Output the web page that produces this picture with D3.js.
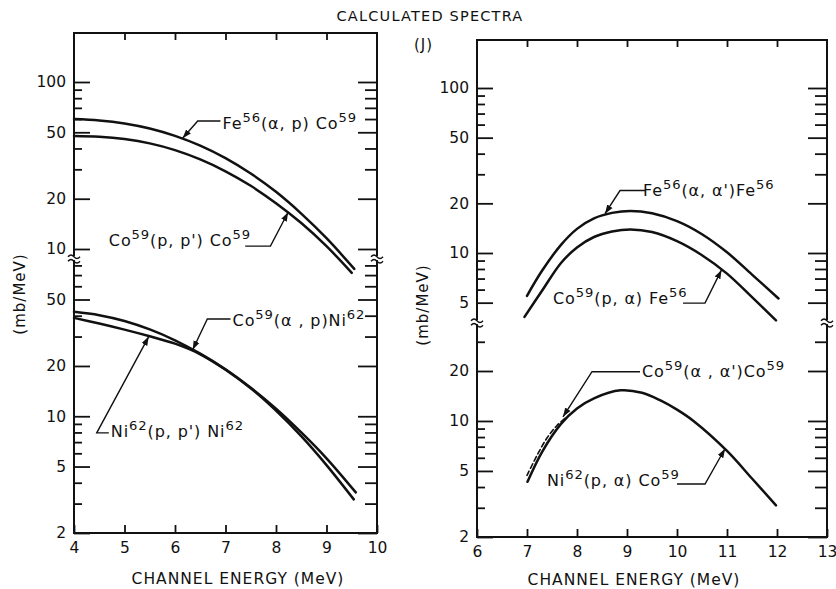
<!DOCTYPE html>
<html><head><meta charset="utf-8">
<script src="https://cdn.jsdelivr.net/npm/d3@7"></script>
<style>
body{margin:0;background:#fff}
svg{display:block}
</style></head><body>
<svg id="chart" width="836" height="589"></svg>
<script>
// ---------------- DATA ----------------
// Left panel, upper section
const leftUpperEnergy = [4.0, 4.5, 5.0, 5.5, 6.0, 6.5, 7.0, 7.5, 8.0, 8.5, 9.0, 9.55];
const feAlphaP        = [60, 58.9, 56.5, 52.7, 47.6, 41.6, 35.0, 28.3, 22.0, 16.3, 11.6, 7.6];
const coUpperEnergy   = [4.0, 4.5, 5.0, 5.5, 6.0, 6.5, 7.0, 7.5, 8.0, 8.5, 9.0, 9.5];
const coPP            = [47.5, 47.0, 45.5, 42.9, 39.1, 34.4, 29.2, 23.9, 18.8, 14.3, 10.4, 7.2];
// Left panel, lower section
const coAlphaPEnergy  = [4.0, 4.5, 5.0, 5.5, 6.0, 6.5, 7.0, 7.5, 8.0, 8.5, 9.0, 9.58];
const coAlphaP        = [42.2, 40.3, 37.2, 33.1, 28.5, 23.7, 19.1, 14.8, 11.1, 8.0, 5.6, 3.5];
const niPPEnergy      = [4.0, 4.5, 5.0, 5.5, 6.0, 6.5, 7.0, 7.5, 8.0, 8.5, 9.0, 9.54];
const niPP            = [38.8, 35.9, 33.0, 30.1, 27.2, 23.5, 19.0, 14.7, 10.8, 7.6, 5.1, 3.18];
// Right panel, upper section
const feAAEnergy      = [7.0, 7.3, 7.68, 8.0, 8.34, 8.7, 9.07, 9.5, 10.0, 10.5, 11.0, 11.5, 12.03];
const feAlphaAlpha    = [5.5, 7.8, 11.2, 14.0, 16.2, 17.5, 18.0, 17.4, 15.6, 13.0, 10.1, 7.4, 5.3];
const coPAEnergy      = [6.95, 7.3, 7.68, 8.0, 8.34, 8.7, 9.07, 9.5, 10.0, 10.5, 11.0, 11.5, 11.98];
const coPAlpha        = [4.1, 5.9, 8.7, 10.8, 12.5, 13.5, 13.9, 13.4, 11.8, 9.7, 7.5, 5.4, 3.9];
// Right panel, lower section
const niPAEnergy      = [7.01, 7.3, 7.68, 8.0, 8.34, 8.87, 9.3, 9.67, 10.0, 10.33, 11.0, 11.5, 11.98];
const niPAlpha        = [4.3, 6.5, 9.6, 11.9, 13.7, 15.3, 14.8, 13.3, 11.7, 10.0, 6.6, 4.5, 3.1];
const coAAEnergy      = [7.0, 7.2, 7.4, 7.6, 7.8];
const coAlphaAlpha    = [4.7, 6.2, 7.9, 9.4, 10.6];

// Ticks
const leftXTicks   = [4, 5, 6, 7, 8, 9, 10];
const rightXTicks  = [6, 7, 8, 9, 10, 11, 12, 13];
const leftUpperMajor  = [10, 20, 50, 100];
const leftUpperMinor  = [30, 40, 60, 70, 80, 90];
const leftLowerMajor  = [2, 5, 10, 20, 50];
const leftLowerMinor  = [3, 4, 6, 7, 8, 9, 30, 40, 60, 70, 80];
const rightUpperMajor = [5, 10, 20, 50, 100];
const rightUpperMinor = [6, 7, 8, 9, 30, 40, 60, 70, 80, 90];
const rightLowerMajor = [2, 5, 10, 20];
const rightLowerMinor = [3, 4, 6, 7, 8, 9, 30];

// Texts
const titleText  = "CALCULATED SPECTRA";
const panelTag   = "(J)";
const yTitle     = "(mb/MeV)";
const xTitle     = "CHANNEL ENERGY (MeV)";

// Annotation labels: text anchor and leader points in data units (energy, value)
const leftUpperNotes = [
  {text: "Fe^56(α, p) Co^59",   at: [6.94, 52.5], pts: [[6.90, 58.4], [6.45, 58.4], [6.15, 46.0]]},
  {text: "Co^59(p, p') Co^59",  at: [4.69, 10.4], pts: [[7.39, 10.4], [7.89, 10.4], [8.24, 16.6]]}
];
const leftLowerNotes = [
  {text: "Co^59(α , p)Ni^62",   at: [7.14, 34.7], pts: [[7.10, 38.2], [6.64, 38.2], [6.35, 25.0]]},
  {text: "Ni^62(p, p') Ni^62",  at: [4.73, 7.5],  pts: [[4.69, 7.95], [4.45, 7.95], [5.48, 30.0]]}
];
const rightUpperNotes = [
  {text: "Fe^56(α, α')Fe^56",   at: [9.32, 22.2], pts: [[9.36, 23.9], [8.86, 23.9], [8.56, 17.3]]},
  {text: "Co^59(p, α) Fe^56",   at: [7.52, 4.9],  pts: [[10.12, 4.97], [10.56, 4.97], [10.89, 7.9]]}
];
const rightLowerNotes = [
  {text: "Co^59(α , α')Co^59",  at: [9.30, 18.4], pts: [[9.26, 19.8], [8.30, 19.8], [7.72, 10.6]]},
  {text: "Ni^62(p, α) Co^59",   at: [7.40, 4.06], pts: [[10.0, 4.17], [10.56, 4.17], [10.96, 6.8]]}
];

// ---------------- DRAWING ----------------
const FONT = "'DejaVu Sans', sans-serif";
const INK = "#111";
const svg = d3.select("#chart");
svg.append("rect").attr("width", 836).attr("height", 589).attr("fill", "#fff");

const defs = svg.append("defs");
defs.append("marker").attr("id", "arrow")
  .attr("viewBox", "0 0 10 10").attr("refX", 10).attr("refY", 5)
  .attr("markerWidth", 9).attr("markerHeight", 9).attr("markerUnits", "userSpaceOnUse")
  .attr("orient", "auto")
  .append("path").attr("d", "M0,1.5 L10,5 L0,8.5 Z").attr("fill", INK);

function richText(sel, str, size) {
  const parts = str.split(/\^(\d+)/);
  let shift = 0;
  parts.forEach((p, i) => {
    if (p === "") return;
    const sup = i % 2 === 1;
    const target = sup ? -size * 0.42 : 0;
    sel.append("tspan").attr("dy", target - shift)
      .attr("font-size", sup ? size * 0.82 : size).text(p);
    shift = target;
  });
}

function styleAxis(g) {
  g.select(".domain").remove();
  g.selectAll(".tick line").attr("stroke", INK).attr("stroke-width", 1.8);
  g.selectAll(".tick text").attr("fill", INK).attr("font-family", FONT).attr("font-size", 15.5);
}

function drawPanel(p) {
  const g = svg.append("g");
  const x = d3.scaleLinear().domain(p.xDomain).range([p.left, p.right]);
  const yU = d3.scaleLog().domain([10, 100]).range(p.upperRange);
  const yL = d3.scaleLog().domain(p.lowerDomain).range(p.lowerRange);

  // top inner ticks
  g.append("g").attr("transform", `translate(0,${p.top})`)
    .call(d3.axisBottom(x).tickValues(p.xTicks.slice(1, -1)).tickSizeInner(7).tickSizeOuter(0).tickFormat(""))
    .call(styleAxis);
  // bottom axis
  g.append("g").attr("transform", `translate(0,${p.bottom})`)
    .call(d3.axisBottom(x).tickValues(p.xTicks).tickSizeInner(-8).tickSizeOuter(0).tickPadding(9).tickFormat(d3.format("d")))
    .call(styleAxis);

  // y axes, both sections
  const sections = [
    {scale: yU, major: p.upperMajor, minor: p.upperMinor},
    {scale: yL, major: p.lowerMajor, minor: p.lowerMinor}
  ];
  sections.forEach(s => {
    g.append("g").attr("transform", `translate(${p.left},0)`)
      .call(d3.axisLeft(s.scale).tickValues(s.major).tickSizeInner(-16).tickSizeOuter(0).tickPadding(8).tickFormat(d3.format("d")))
      .call(styleAxis);
    g.append("g").attr("transform", `translate(${p.left},0)`)
      .call(d3.axisLeft(s.scale).tickValues(s.minor).tickSizeInner(-8).tickSizeOuter(0).tickFormat(""))
      .call(styleAxis);
    g.append("g").attr("transform", `translate(${p.right},0)`)
      .call(d3.axisLeft(s.scale).tickValues(s.major).tickSizeInner(19).tickSizeOuter(0).tickFormat(""))
      .call(styleAxis);
    g.append("g").attr("transform", `translate(${p.right},0)`)
      .call(d3.axisLeft(s.scale).tickValues(s.minor).tickSizeInner(12).tickSizeOuter(0).tickFormat(""))
      .call(styleAxis);
  });

  // frame
  g.append("rect").attr("x", p.left).attr("y", p.top)
    .attr("width", p.right - p.left).attr("height", p.bottom - p.top)
    .attr("fill", "none").attr("stroke", INK).attr("stroke-width", 2);

  // axis breaks
  [p.left, p.right].forEach(ax => {
    g.append("rect").attr("x", ax - 3).attr("y", p.breakY - 2).attr("width", 6).attr("height", 4).attr("fill", "#fff");
    [-2.2, 2.2].forEach(off => {
      g.append("path")
        .attr("d", `M${ax - 6},${p.breakY + off + 1} q3,-3.5 6,0 t6,0`)
        .attr("fill", "none").attr("stroke", INK).attr("stroke-width", 1.4);
    });
  });

  // curves
  p.curves.forEach(c => {
    const sc = c.section === "upper" ? yU : yL;
    const line = d3.line().x(d => x(d[0])).y(d => sc(d[1])).curve(d3.curveCatmullRom.alpha(0.5));
    g.append("path").datum(d3.zip(c.e, c.v)).attr("d", line)
      .attr("fill", "none").attr("stroke", INK).attr("stroke-width", c.dash ? 1.6 : 2.5)
      .attr("stroke-dasharray", c.dash ? "5,3" : null).attr("stroke-linecap", "round");
  });

  // annotations
  p.notes.forEach(n => {
    const sc = n.section === "upper" ? yU : yL;
    const pts = n.pts.map(d => [x(d[0]), sc(d[1])]);
    g.append("path").attr("d", d3.line()(pts)).attr("fill", "none")
      .attr("stroke", INK).attr("stroke-width", 1.4).attr("marker-end", "url(#arrow)");
    const t = g.append("text").attr("x", x(n.at[0])).attr("y", sc(n.at[1]))
      .attr("font-family", FONT).attr("fill", INK).attr("letter-spacing", 0.9);
    richText(t, n.text, 16);
  });
}

drawPanel({
  xDomain: [4, 10], left: 74, right: 377, top: 33, bottom: 533, breakY: 258,
  upperRange: [249, 82], lowerDomain: [2, 50], lowerRange: [533, 299.5],
  xTicks: leftXTicks,
  upperMajor: leftUpperMajor, upperMinor: leftUpperMinor,
  lowerMajor: leftLowerMajor, lowerMinor: leftLowerMinor,
  curves: [
    {section: "upper", e: leftUpperEnergy, v: feAlphaP},
    {section: "upper", e: coUpperEnergy, v: coPP},
    {section: "lower", e: coAlphaPEnergy, v: coAlphaP},
    {section: "lower", e: niPPEnergy, v: niPP}
  ],
  notes: leftUpperNotes.map(n => ({...n, section: "upper"}))
    .concat(leftLowerNotes.map(n => ({...n, section: "lower"})))
});

drawPanel({
  xDomain: [6, 13], left: 477, right: 827, top: 40, bottom: 537, breakY: 322,
  upperRange: [253, 88], lowerDomain: [2, 20], lowerRange: [537, 371],
  xTicks: rightXTicks,
  upperMajor: rightUpperMajor, upperMinor: rightUpperMinor,
  lowerMajor: rightLowerMajor, lowerMinor: rightLowerMinor,
  curves: [
    {section: "upper", e: feAAEnergy, v: feAlphaAlpha},
    {section: "upper", e: coPAEnergy, v: coPAlpha},
    {section: "lower", e: niPAEnergy, v: niPAlpha},
    {section: "lower", e: coAAEnergy, v: coAlphaAlpha, dash: true}
  ],
  notes: rightUpperNotes.map(n => ({...n, section: "upper"}))
    .concat(rightLowerNotes.map(n => ({...n, section: "lower"})))
});

// titles
svg.append("text").attr("x", 430).attr("y", 21).attr("text-anchor", "middle")
  .attr("font-family", FONT).attr("font-size", 14.5).attr("letter-spacing", 1.2).attr("fill", INK).text(titleText);
svg.append("text").attr("x", 414).attr("y", 50)
  .attr("font-family", FONT).attr("font-size", 15).attr("letter-spacing", 1).attr("fill", INK).text(panelTag);
[[20, 294], [423, 305]].forEach(([cx, cy]) => {
  svg.append("text").attr("transform", `translate(${cx},${cy}) rotate(-90)`)
    .attr("text-anchor", "middle").attr("dy", "0.35em")
    .attr("font-family", FONT).attr("font-size", 15).attr("letter-spacing", 1).attr("fill", INK).text(yTitle);
});
[[238, 584], [634, 585]].forEach(([cx, cy]) => {
  svg.append("text").attr("x", cx).attr("y", cy).attr("text-anchor", "middle")
    .attr("font-family", FONT).attr("font-size", 15.5).attr("letter-spacing", 1).attr("fill", INK).text(xTitle);
});
</script>
</body></html>
